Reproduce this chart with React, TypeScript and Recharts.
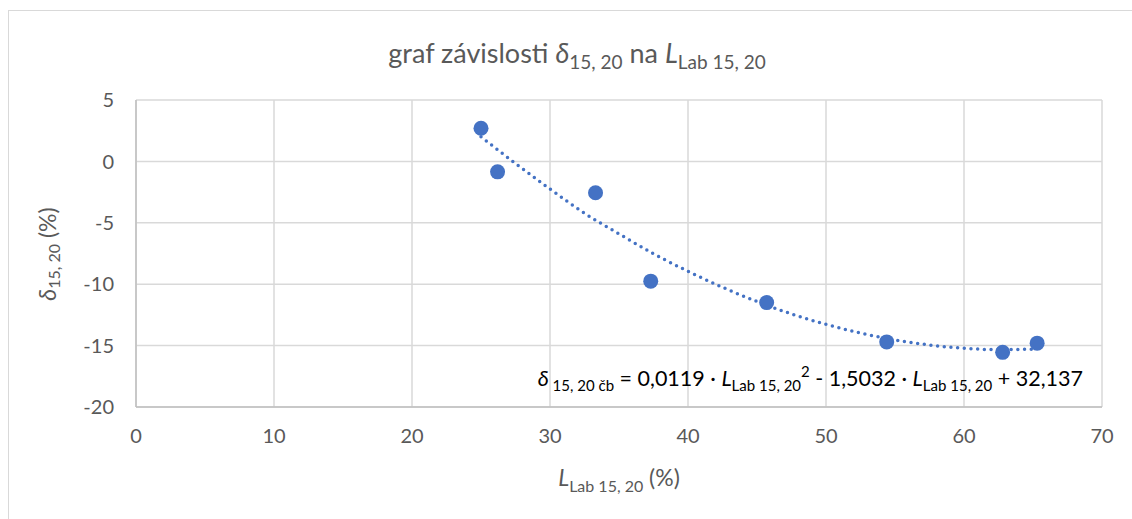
import React from "react"
import { ComposedChart, Scatter, Line, XAxis, YAxis, CartesianGrid, Label, Customized } from "recharts"

// measured points: L Lab 15,20 (%) vs delta 15,20 (%)
const lLab = [25.0, 26.2, 33.3, 37.3, 45.7, 54.4, 62.8, 65.3]
const delta = [2.7, -0.85, -2.55, -9.75, -11.5, -14.7, -15.55, -14.8]

// polynomial trendline, values
const trendX = [25, 27.5, 30, 32.5, 35, 37.5, 40, 42.5, 45, 47.5, 50, 52.5, 55, 57.5, 60, 62.5, 65.3]
const trendY = [2.0, -0.17, -2.25, -4.22, -5.9, -7.52, -8.95, -10.25, -11.41, -12.42, -13.27, -13.98, -14.54, -14.95, -15.22, -15.33, -15.28]

const xTicks = [0, 10, 20, 30, 40, 50, 60, 70]
const yTicks = [-20, -15, -10, -5, 0, 5]

const points = lLab.map((x, i) => ({ x, y: delta[i] }))
const trend = trendX.map((x, i) => ({ x, y: trendY[i] }))

const FONT = "Lato, 'Open Sans', sans-serif"
const GREY = "#595959"
const BLUE = "#4472C4"

const Dot = (props: any) => <circle cx={props.cx} cy={props.cy} r={7.5} fill={BLUE} />

const Overlay = () => (
  <g fontFamily={FONT}>
    <rect x={8.5} y={10.5} width={1140} height={540} fill="none" stroke="#d9d9d9" />
    <text x={577} y={63} textAnchor="middle" fontSize={27} fill={GREY}>
      graf závislosti <tspan fontStyle="italic">δ</tspan>
      <tspan fontSize={19} dy={6}>15, 20</tspan>
      <tspan dy={-6}> na </tspan>
      <tspan fontStyle="italic">L</tspan>
      <tspan fontSize={19} dy={6}>Lab 15, 20</tspan>
    </text>
    <text x={1083} y={386} textAnchor="end" fontSize={21.5} fill="#000">
      <tspan fontStyle="italic">δ</tspan>
      <tspan fontSize={15} dy={5}> 15, 20 čb</tspan>
      <tspan dy={-5}> = 0,0119 · </tspan>
      <tspan fontStyle="italic">L</tspan>
      <tspan fontSize={15} dy={5}>Lab 15, 20</tspan>
      <tspan fontSize={15} dy={-14}>2</tspan>
      <tspan dy={9}> - 1,5032 · </tspan>
      <tspan fontStyle="italic">L</tspan>
      <tspan fontSize={15} dy={5}>Lab 15, 20</tspan>
      <tspan dy={-5}> + 32,137</tspan>
    </text>
  </g>
)

const YTitle = () => (
  <text x={47} y={254} transform="rotate(-90 47 254)" textAnchor="middle" dominantBaseline="central" fontFamily={FONT} fontSize={23} fill={GREY}>
    <tspan fontStyle="italic">δ</tspan>
    <tspan fontSize={16} dy={6}>15, 20</tspan>
    <tspan dy={-6}> (%)</tspan>
  </text>
)

const XTitle = () => (
  <text x={619} y={486} textAnchor="middle" fontFamily={FONT} fontSize={23} fill={GREY}>
    <tspan fontStyle="italic">L</tspan>
    <tspan fontSize={16} dy={6}>Lab 15, 20</tspan>
    <tspan dy={-6}> (%)</tspan>
  </text>
)

export default function App() {
  return (
    <div style={{ position: "absolute", left: 0, top: 0, width: 1132, height: 519, background: "#fff" }}>
      <ComposedChart width={1132} height={519} margin={{ top: 100, right: 30, bottom: 72, left: 76 }}>
        <CartesianGrid stroke="#d9d9d9" strokeWidth={1.5} />
        <XAxis
          type="number"
          dataKey="x"
          domain={[0, 70]}
          ticks={xTicks}
          height={40}
          axisLine={{ stroke: "#bfbfbf", strokeWidth: 1.5 }}
          tickLine={false}
          tickSize={0}
          tickMargin={22}
          tick={{ fill: GREY, fontSize: 20, fontFamily: FONT }}
        >
          <Label content={<XTitle />} />
        </XAxis>
        <YAxis
          type="number"
          dataKey="y"
          domain={[-20, 5]}
          ticks={yTicks}
          width={60}
          axisLine={{ stroke: "#bfbfbf", strokeWidth: 1.5 }}
          tickLine={false}
          tickSize={0}
          tickMargin={22}
          tick={{ fill: GREY, fontSize: 20, fontFamily: FONT }}
        >
          <Label content={<YTitle />} />
        </YAxis>
        <Line
          data={trend}
          dataKey="y"
          type="monotone"
          stroke={BLUE}
          strokeWidth={3.5}
          strokeDasharray="0 6.7"
          strokeLinecap="round"
          dot={false}
          activeDot={false}
          isAnimationActive={false}
        />
        <Scatter data={points} dataKey="y" fill={BLUE} shape={<Dot />} isAnimationActive={false} />
        <Customized component={Overlay} />
      </ComposedChart>
    </div>
  )
}
